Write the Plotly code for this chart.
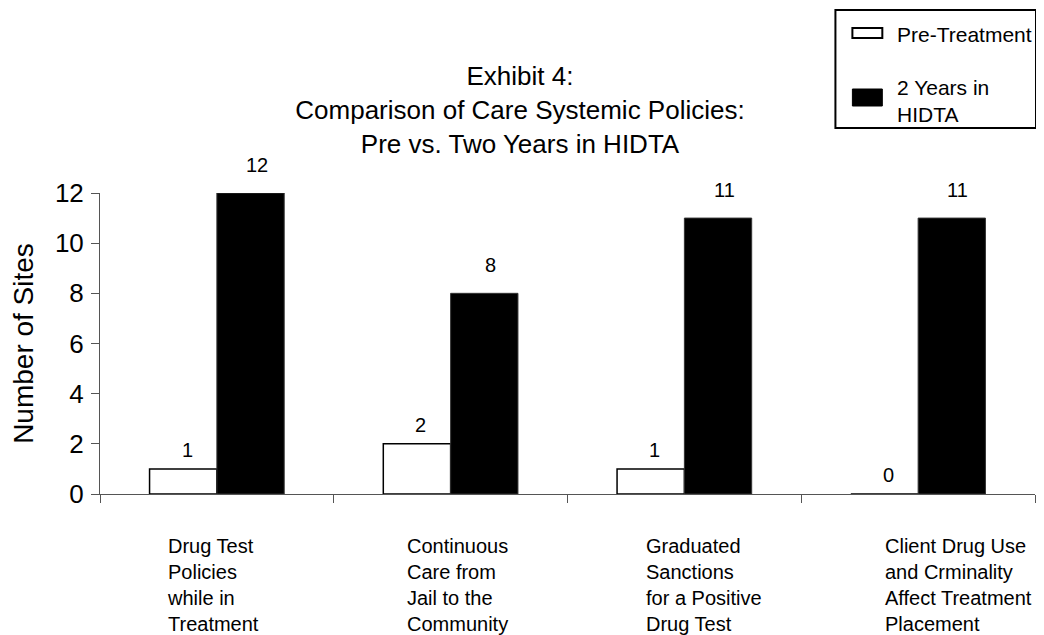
import plotly.graph_objects as go

categories = [
    "Drug Test<br>Policies<br>while in<br>Treatment",
    "Continuous<br>Care from<br>Jail to the<br>Community",
    "Graduated<br>Sanctions<br>for a Positive<br>Drug Test",
    "Client Drug Use<br>and Crminality<br>Affect Treatment<br>Placement",
]
pre_treatment = [1, 2, 1, 0]
two_years = [12, 8, 11, 11]
series_names = ["Pre-Treatment", "2 Years in<br>HIDTA"]
y_ticks = [0, 2, 4, 6, 8, 10, 12]

# the page body has an 8px margin; layout constants below are screen pixels
OFF = 8
W, H = 1044 - OFF, 635 - OFF
PX_L, PX_R, PX_T, PX_B = 98, 1035, 193, 494
L, T = PX_L - OFF, PX_T - OFF
R, B = W - (PX_R - OFF), H - (PX_B - OFF)
PW, PH = PX_R - PX_L, PX_B - PX_T
FONT = "Liberation Sans, Arial, sans-serif"


def px_x(px):
    return (px - PX_L) / PW


def px_y(py):
    return (PX_B - py) / PH


idx = list(range(len(categories)))
bw = 0.288

fig = go.Figure()
fig.add_trace(go.Bar(
    x=idx, y=pre_treatment, name=series_names[0], width=bw, offset=-bw,
    marker=dict(color="white", line=dict(color="black", width=1.5)),
    showlegend=False, hoverinfo="skip",
))
fig.add_trace(go.Bar(
    x=idx, y=two_years, name=series_names[1], width=bw, offset=0,
    marker=dict(color="black", line=dict(color="#333", width=1)),
    showlegend=False, hoverinfo="skip",
))

annotations = []
for i, v in enumerate(pre_treatment):
    annotations.append(dict(x=i - bw / 2, y=v, xref="x", yref="y", text=str(v),
                            showarrow=False, yanchor="bottom", yshift=6, xshift=4,
                            font=dict(family=FONT, size=20, color="black")))
for i, v in enumerate(two_years):
    annotations.append(dict(x=i + bw / 2, y=v, xref="x", yref="y", text=str(v),
                            showarrow=False, yanchor="bottom", yshift=15, xshift=6,
                            font=dict(family=FONT, size=20, color="black")))

label_shift = [-52, -46, -40, -35]
for i, c in enumerate(categories):
    annotations.append(dict(x=i, y=px_y(533), xref="x", yref="paper", text=c,
                            showarrow=False, xanchor="left", yanchor="top",
                            align="left", xshift=label_shift[i],
                            font=dict(family=FONT, size=20, color="black")))

# legend box (manual)
shapes = [
    dict(type="rect", xref="paper", yref="paper",
         x0=px_x(835), x1=px_x(1036), y0=px_y(128), y1=px_y(10),
         line=dict(color="black", width=2), fillcolor="white", layer="above"),
    dict(type="rect", xref="paper", yref="paper",
         x0=px_x(852), x1=px_x(882), y0=px_y(38), y1=px_y(28),
         line=dict(color="black", width=2), fillcolor="white"),
    dict(type="rect", xref="paper", yref="paper",
         x0=px_x(852), x1=px_x(882), y0=px_y(106), y1=px_y(89),
         line=dict(color="black", width=1), fillcolor="black"),
]
annotations.append(dict(x=px_x(895), y=px_y(35), xref="paper", yref="paper",
                        text=series_names[0], showarrow=False, xanchor="left",
                        yanchor="middle", align="left",
                        font=dict(family=FONT, size=21, color="black")))
annotations.append(dict(x=px_x(895), y=px_y(101), xref="paper", yref="paper",
                        text=series_names[1], showarrow=False, xanchor="left",
                        yanchor="middle", align="left",
                        font=dict(family=FONT, size=21, color="black")))

bounds = [i - 0.5 for i in range(len(categories) + 1)]
axis_color = "#555"

fig.update_layout(
    width=W, height=H, autosize=False,
    margin=dict(l=L, r=R, t=T, b=B, pad=0),
    paper_bgcolor="white", plot_bgcolor="white",
    font=dict(family=FONT, color="black"),
    title=dict(text="Exhibit 4:<br>Comparison of Care Systemic Policies:<br>Pre vs. Two Years in HIDTA",
               x=(520 - OFF) / W, xanchor="center", xref="container",
               y=1 - 77 / H, yanchor="top", yref="container",
               font=dict(family=FONT, size=26, color="black")),
    showlegend=False,
    xaxis=dict(range=[-0.5, 3.5], tickmode="array", tickvals=bounds, ticktext=[""] * len(bounds),
               ticks="outside", ticklen=8, tickcolor=axis_color, tickwidth=1,
               showline=True, linecolor=axis_color, linewidth=1,
               showgrid=False, zeroline=False, fixedrange=True),
    xaxis2=dict(range=[-0.5, 3.5], overlaying="x", anchor="y", side="bottom",
                tickmode="array", tickvals=bounds, ticktext=[""] * len(bounds),
                ticks="inside", ticklen=8, tickcolor=axis_color, tickwidth=1,
                showline=False, showgrid=False, zeroline=False),
    yaxis=dict(range=[0, 12], tickmode="array", tickvals=y_ticks,
               ticks="outside", ticklen=8, tickcolor=axis_color, tickwidth=1,
               showline=True, linecolor=axis_color, linewidth=1,
               showgrid=False, zeroline=False, ticklabelstandoff=2,
               tickfont=dict(family=FONT, size=26, color="black"),
               title=dict(text="Number of Sites", standoff=18,
                          font=dict(family=FONT, size=28, color="black"))),
    yaxis2=dict(range=[0, 12], overlaying="y", anchor="x", side="left",
                tickmode="array", tickvals=y_ticks, ticktext=[""] * len(y_ticks),
                ticks="inside", ticklen=8, tickcolor=axis_color, tickwidth=1,
                showline=False, showgrid=False, zeroline=False),
    annotations=annotations,
    shapes=shapes,
)

fig.write_html("out.html")
